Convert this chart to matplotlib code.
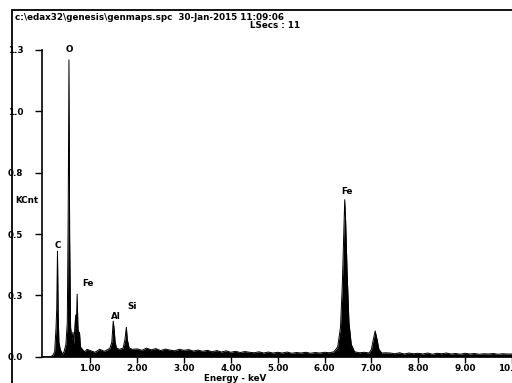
import numpy as np
import matplotlib
matplotlib.use("Agg")
import matplotlib.pyplot as plt
import matplotlib.patches as patch

# spectrum (energy keV, KCnt)
energy_low = [0.00, 0.15, 0.20, 0.24, 0.27, 0.285, 0.30, 0.315, 0.33, 0.36, 0.40, 0.44,
              0.48, 0.51, 0.53, 0.545, 0.56, 0.58, 0.61, 0.63, 0.65, 0.67, 0.69, 0.70,
              0.72, 0.735, 0.75, 0.77, 0.79, 0.83, 0.88, 0.93]
counts_low = [0.0, 0.0, 0.005, 0.02, 0.12, 0.20, 0.43, 0.18, 0.06, 0.03, 0.012, 0.02,
              0.05, 0.14, 0.62, 1.21, 0.48, 0.12, 0.07, 0.10, 0.05, 0.12, 0.17, 0.11,
              0.255, 0.13, 0.08, 0.10, 0.04, 0.03, 0.02, 0.03]

energy_bg = [1.0, 1.1, 1.2, 1.3, 1.38, 2.0, 2.1, 2.2, 2.3, 2.4, 2.5, 2.6, 2.7, 2.8, 2.9,
             3.0, 3.1, 3.2, 3.3, 3.4, 3.5, 3.6, 3.7, 3.8, 3.9, 4.0, 4.1, 4.2, 4.3, 4.4,
             4.5, 4.6, 4.7, 4.8, 4.9, 5.0, 5.1, 5.2, 5.3, 5.4, 5.5, 5.6, 5.7, 5.8, 5.9,
             6.0, 6.1, 7.4, 7.5, 7.6, 7.7, 7.8, 7.9, 8.0, 8.1, 8.2, 8.3, 8.4, 8.5, 8.6,
             8.7, 8.8, 8.9, 9.0, 9.1, 9.2, 9.3, 9.4, 9.5, 9.6, 9.7, 9.8, 9.9, 10.0]
counts_bg = [0.025, 0.018, 0.03, 0.022, 0.03, 0.032, 0.026, 0.035, 0.028, 0.033, 0.025, 0.031,
             0.027, 0.024, 0.03, 0.026, 0.029, 0.023, 0.027, 0.022, 0.026, 0.02, 0.025, 0.019,
             0.024, 0.018, 0.022, 0.017, 0.021, 0.018, 0.016, 0.02, 0.015, 0.019, 0.015,
             0.018, 0.015, 0.019, 0.014, 0.017, 0.015, 0.018, 0.014, 0.017, 0.015, 0.018,
             0.016, 0.015, 0.012, 0.016, 0.011, 0.015, 0.012, 0.014, 0.011, 0.015, 0.01,
             0.014, 0.012, 0.015, 0.011, 0.013, 0.01, 0.014, 0.011, 0.013, 0.01, 0.012,
             0.011, 0.013, 0.01, 0.012, 0.011, 0.011]

energy_al_si = [1.42, 1.46, 1.49, 1.51, 1.53, 1.56, 1.62, 1.70, 1.74, 1.77, 1.79, 1.83, 1.90]
counts_al_si = [0.035, 0.06, 0.145, 0.11, 0.06, 0.035, 0.03, 0.035, 0.07, 0.12, 0.07, 0.035, 0.03]

energy_fe = [6.20, 6.28, 6.34, 6.38, 6.41, 6.43, 6.45, 6.48, 6.52, 6.57, 6.64, 6.75, 6.85,
             6.95, 7.00, 7.04, 7.08, 7.12, 7.16, 7.22, 7.30]
counts_fe = [0.02, 0.04, 0.12, 0.30, 0.50, 0.64, 0.55, 0.35, 0.14, 0.05, 0.02, 0.016, 0.018,
             0.015, 0.03, 0.07, 0.105, 0.07, 0.03, 0.015, 0.016]

peak_names = ["C", "O", "Fe", "Al", "Si", "Fe"]
peak_pos = [0.30, 0.545, 0.72, 1.49, 1.77, 6.43]
peak_top = [0.43, 1.21, 0.255, 0.145, 0.12, 0.64]
peak_dx = [0.0, 0.0, 0.22, 0.05, 0.12, 0.04]
peak_dy = [0.025, 0.04, 0.045, 0.02, 0.085, 0.035]

ytick_vals = [0.0, 0.25, 0.5, 0.75, 1.0, 1.25]
ytick_text = ["0.0", "0.3", "0.5", "0.8", "1.0", "1.3"]
xtick_vals = [1, 2, 3, 4, 5, 6, 7, 8, 9, 10]
xtick_text = ["1.00", "2.00", "3.00", "4.00", "5.00", "6.00", "7.00", "8.00", "9.00", "10.00"]

E = np.array(energy_low + energy_bg + energy_al_si + energy_fe)
C = np.array(counts_low + counts_bg + counts_al_si + counts_fe)
order = np.argsort(E, kind="stable")
E = E[order]
C = C[order]

plt.rcParams['font.family'] = ['DejaVu Sans']
plt.rcParams['font.weight'] = 'bold'
fs = 6.3

fig = plt.figure(figsize=(5.12, 3.83), dpi=100)
ax = fig.add_axes([42 / 512, 1 - 356.7 / 383, 1 - 42 / 512, (356.7 - 50) / 383])

ax.fill_between(E, 0, C, color='black', lw=0)
ax.plot(E, C, color='black', lw=0.7)

ax.set_xlim(-0.03, 9.93)
ax.set_ylim(0, 1.25)

ax.spines["top"].set_visible(False)
ax.spines["right"].set_visible(False)
ax.spines["left"].set_linewidth(1.2)
ax.spines["bottom"].set_linewidth(1.2)

ax.set_yticks(ytick_vals)
ax.set_yticklabels(ytick_text)
ax.set_xticks(xtick_vals)
ax.set_xticklabels(xtick_text)
ax.tick_params(axis='y', direction='out', length=5, width=1, pad=0, labelsize=fs)
ax.tick_params(axis='x', direction='out', length=4, width=1, pad=1.5, labelsize=fs)
for lab in ax.get_yticklabels():
    lab.set_horizontalalignment('left')
    lab.set_x(-27 / 470)

ax.set_xlabel("Energy - keV", fontsize=fs, fontweight='bold')
ax.xaxis.set_label_coords((235 - 42) / 470, -17 / 307)

for name, x, y, dx, dy in zip(peak_names, peak_pos, peak_top, peak_dx, peak_dy):
    ax.text(x + dx, y + dy, name, fontsize=fs, fontweight='bold', ha='center', va='center')

fig.text(15 / 512, 1 - 18 / 383, "c:\\edax32\\genesis\\genmaps.spc  30-Jan-2015 11:09:06",
         fontsize=fs, fontweight='bold', va='center', ha='left')
fig.text(250 / 512, 1 - 26 / 383, "LSecs : 11", fontsize=fs, fontweight='bold',
         va='center', ha='left')
fig.text(15 / 512, 1 - 200 / 383, "KCnt", fontsize=fs, fontweight='bold',
         va='center', ha='left')

# outer frame
fig.patches.append(patch.Rectangle((12 / 512, -0.1), 1.2, 1.1 - 10 / 383,
                                   transform=fig.transFigure, fill=False,
                                   edgecolor='black', lw=1.3))

fig.savefig("out.png", dpi=100)
